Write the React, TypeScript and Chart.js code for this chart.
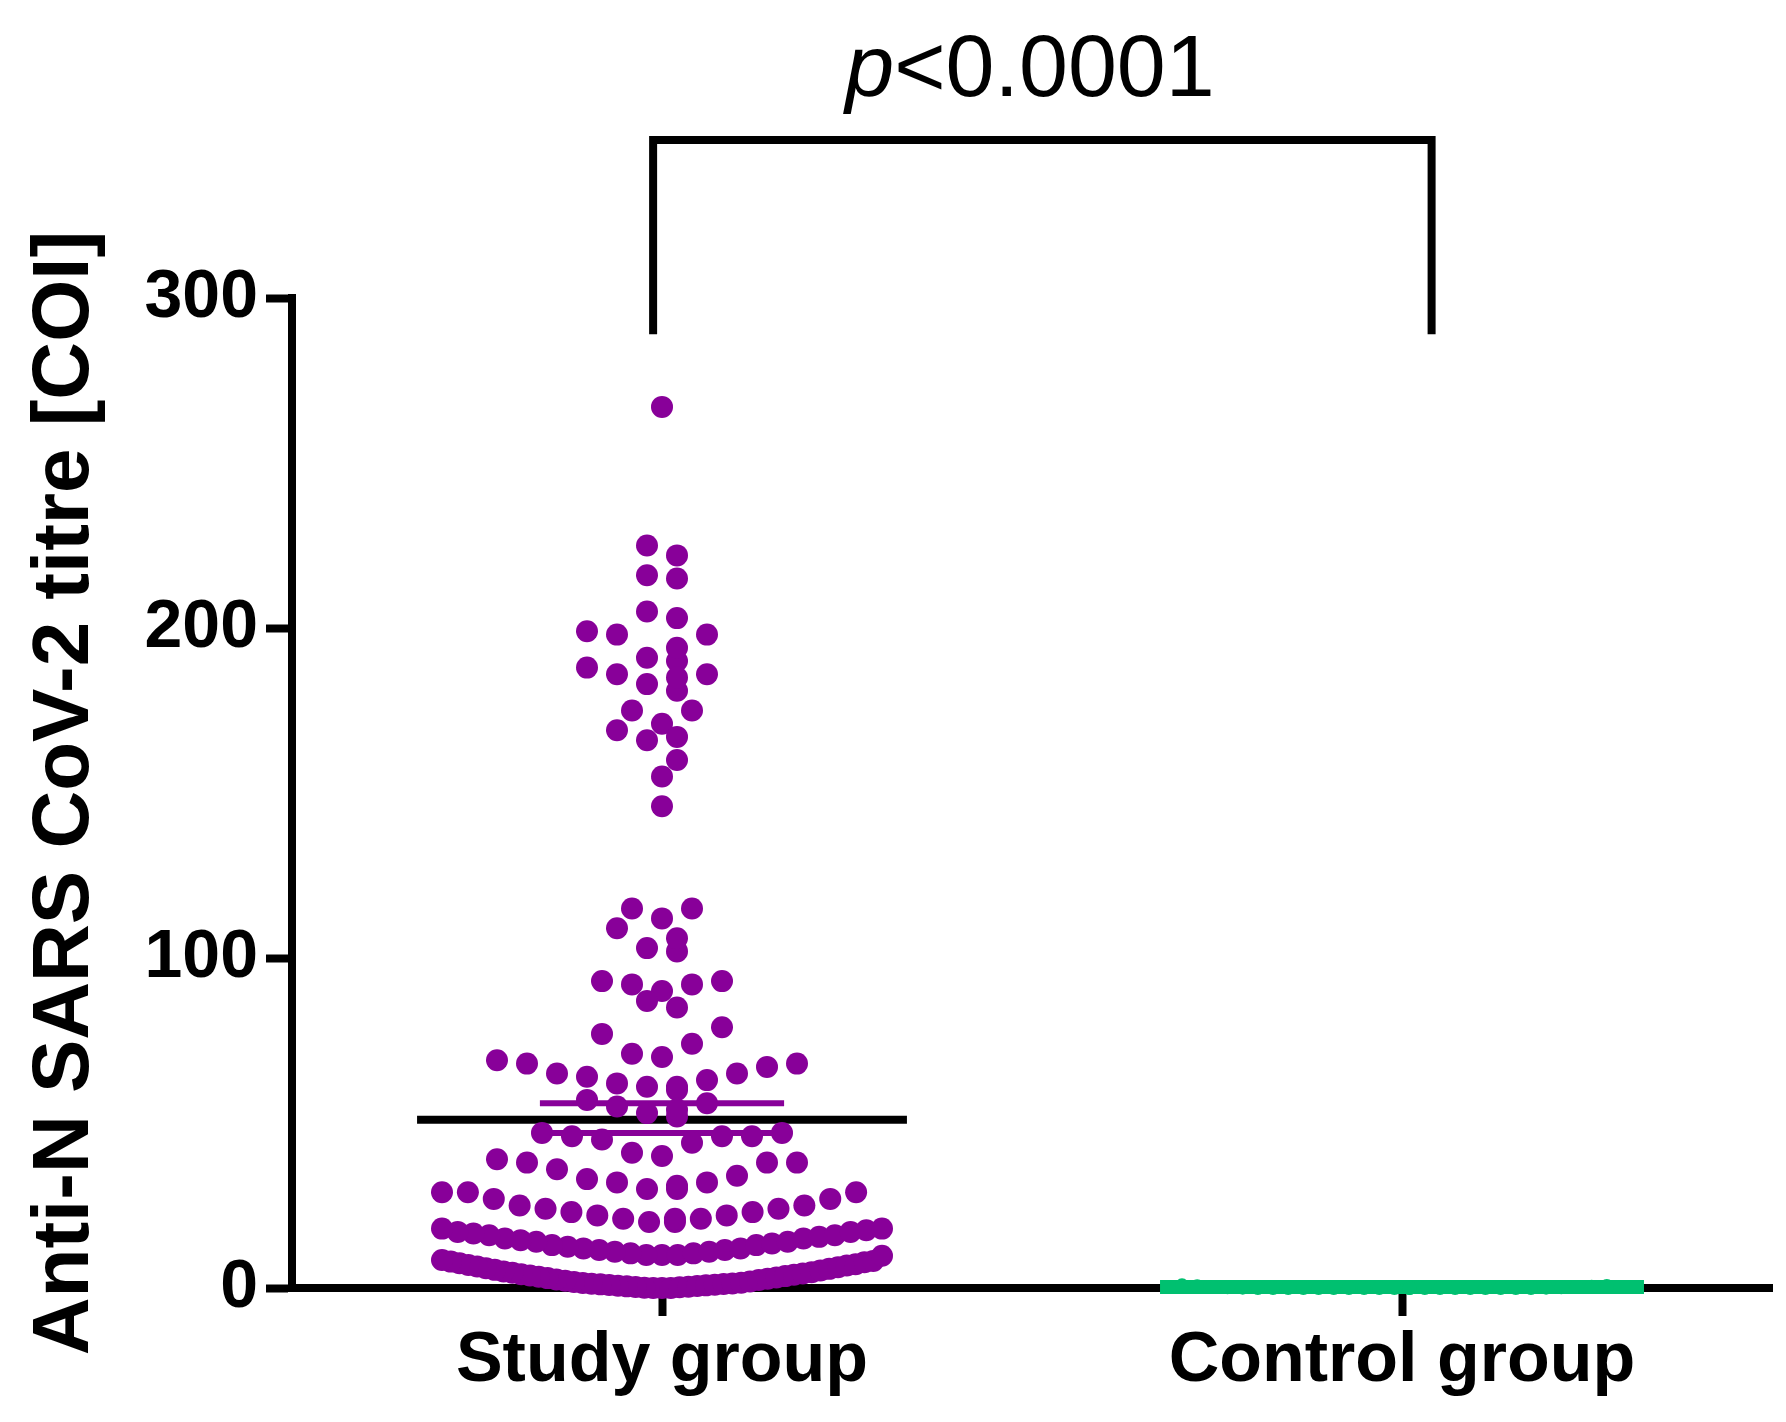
import React, { useEffect, useRef } from "react";
import { Chart, registerables } from "chart.js";
Chart.register(...registerables);

const categories = ["Study group", "Control group"];
const yTicks = [0, 100, 200, 300];
const studyValues: number[] = [
  267, 225, 222, 216, 215, 205, 203, 199, 198, 198, 194, 191, 190, 188, 186, 186, 185, 183, 181, 175, 175, 171, 169, 167, 166, 160, 155, 146,
  115, 115, 112, 109, 106, 103, 102, 93, 93, 92, 92, 90, 87, 85, 79, 77, 74, 71, 70,
  69, 68, 68, 67, 65, 65, 64, 63, 62, 61, 61, 60, 57, 56, 55, 54, 53, 52,
  47, 47, 46, 46, 46, 45, 44, 41, 40, 39, 38, 38, 38, 36, 34, 33, 32, 32, 31, 30, 30, 29, 29, 29,
  27, 27, 25, 25, 24, 24, 23, 23, 22, 22, 21, 21, 21, 20, 20,
  18, 18, 17.5, 17, 17, 16.5, 16, 16, 15.5, 15, 15, 14.5, 14, 14, 13.5, 13, 13, 12.5, 12, 12, 11.5, 11.5, 11, 11, 10.5, 10.5, 10, 10, 10, 9.8,
  8.5, 8.2, 8, 7.8, 7.5, 7.2, 7, 6.8, 6.5, 6.3, 6, 5.8, 5.5, 5.3, 5, 4.8, 4.6, 4.4, 4.2, 4, 3.8, 3.6, 3.4, 3.2, 3, 2.8, 2.6, 2.4, 2.2, 2, 1.8, 1.6, 1.5, 1.4, 1.3, 1.2, 1.1, 1, 0.9, 0.8, 0.7, 0.6, 0.5, 0.4, 0.3, 0.2, 0.1, 0, 0, 0,
];
const controlValues: number[] = [0.8, 0.6, 0.5, 0.4, 0.3, 0.3, 0.2, 0.2, 0.1, 0.1, 0, 0, 0, 0, 0, 0, 0, 0, 0, 0, 0, 0, 0, 0, 0, 0, 0, 0, 0, 0];
const studyMean = 51;
const studySemLow = 47;
const studySemHigh = 56;
const controlMean = 0.3;
const pLabel = "<0.0001";

const PURPLE = "#880099";
const GREEN = "#00c070";

function swarm(values: number[], center: number, chart: any, binPx: number, stepPx: number, maxWidthPx: number) {
  const xs = chart.scales.x, ys = chart.scales.y;
  const cpx = xs.getPixelForValue(center);
  const bins = new Map<number, number[]>();
  values.forEach((v) => {
    const b = Math.floor((ys.getPixelForValue(0) - ys.getPixelForValue(v)) / binPx);
    if (!bins.has(b)) bins.set(b, []);
    bins.get(b)!.push(v);
  });
  const out: { x: number; y: number }[] = [];
  bins.forEach((arr) => {
    arr.sort((a, b) => a - b);
    const n = arr.length;
    const step = n > 1 ? Math.min(stepPx, maxWidthPx / (n - 1)) : 0;
    arr.forEach((v, i) => {
      const k = Math.ceil(i / 2) * (i % 2 === 1 ? -1 : 1);
      const shift = n % 2 === 0 ? step / 2 : 0;
      const px = cpx + k * step + (n % 2 === 0 ? (k <= 0 ? shift : -shift) : 0);
      out.push({ x: xs.getValueForPixel(px), y: v });
    });
  });
  return out;
}

export default function App() {
  const ref = useRef<HTMLCanvasElement>(null);
  useEffect(() => {
    document.body.style.margin = "0";
    const narrow = "'Liberation Sans Narrow', 'Liberation Sans', Arial, sans-serif";
    const bracket = {
      id: "bracket",
      afterDraw(c: any) {
        const ctx = c.ctx, xs = c.scales.x, ys = c.scales.y;
        const x1 = xs.getPixelForValue(0.488), x2 = xs.getPixelForValue(1.54);
        const yTop = 140, yBot = ys.getPixelForValue(289);
        ctx.save();
        ctx.strokeStyle = "#000"; ctx.lineWidth = 8; ctx.lineJoin = "miter";
        ctx.beginPath(); ctx.moveTo(x1, yBot); ctx.lineTo(x1, yTop); ctx.lineTo(x2, yTop); ctx.lineTo(x2, yBot); ctx.stroke();
        ctx.fillStyle = "#000"; ctx.textBaseline = "alphabetic";
        ctx.font = "italic 88px 'Liberation Sans', Arial";
        const w1 = ctx.measureText("p").width;
        ctx.font = "88px 'Liberation Sans', Arial";
        const w2 = ctx.measureText(pLabel).width;
        const sx = 1030 - (w1 + w2) / 2;
        ctx.font = "italic 88px 'Liberation Sans', Arial";
        ctx.fillText("p", sx, 96);
        ctx.font = "88px 'Liberation Sans', Arial";
        ctx.fillText(pLabel, sx + w1, 96);
        ctx.restore();
      },
    };
    const lineDs = (x: number, h: number, y: number, color: string, w: number) => ({
      type: "line" as const, data: [{ x: x - h, y }, { x: x + h, y }], borderColor: color, borderWidth: w,
      pointRadius: 0, fill: false, clip: false as any,
    });
    const chart = new Chart(ref.current!, {
      type: "scatter",
      data: {
        datasets: [
          { data: studyValues.map((v) => ({ x: 0.5, y: v })), backgroundColor: PURPLE, borderWidth: 0, pointRadius: 11, clip: false as any },
          { data: controlValues.map((v) => ({ x: 1.5, y: v })), backgroundColor: GREEN, borderWidth: 0, pointRadius: 7, clip: false as any },
          lineDs(0.5, 0.165, studySemHigh, PURPLE, 6),
          lineDs(0.5, 0.165, studySemLow, PURPLE, 6),
          lineDs(0.5, 0.331, studyMean, "#000", 8),
          lineDs(1.5, 0.327, controlMean, GREEN, 14),
        ] as any,
      },
      options: {
        animation: false, responsive: false,
        layout: { padding: { top: 298, right: 14, left: 18, bottom: 0 } },
        plugins: { legend: { display: false }, tooltip: { enabled: false } },
        scales: {
          x: {
            type: "linear", min: 0, max: 2,
            afterBuildTicks: (s: any) => { s.ticks = [{ value: 0.5 }, { value: 1.5 }]; },
            afterFit: (s: any) => { s.height = 134; },
            grid: { display: true, drawOnChartArea: false, drawTicks: true, tickLength: 28, tickWidth: 8, color: "#000" },
            border: { display: true, color: "#000", width: 8 },
            ticks: { color: "#000", padding: 4, font: { family: narrow, size: 70, weight: "bold" }, callback: (v: any) => categories[Math.round(Number(v) - 0.5)] },
          },
          y: {
            min: 0, max: 300,
            afterBuildTicks: (s: any) => { s.ticks = yTicks.map((v) => ({ value: v })); },
            afterFit: (s: any) => { s.width = 274; },
            grid: { display: true, drawOnChartArea: false, drawTicks: true, tickLength: 26, tickWidth: 8, color: "#000" },
            border: { display: true, color: "#000", width: 8 },
            ticks: { color: "#000", padding: 8, font: { family: narrow, size: 68, weight: "bold" } },
            title: { display: true, text: "Anti-N SARS CoV-2 titre [COI]", color: "#000", padding: 0, font: { family: "'Liberation Sans', Arial", size: 80, weight: "bold" } },
          },
        },
      } as any,
      plugins: [bracket],
    });
    chart.data.datasets[0].data = swarm(studyValues, 0.5, chart, 33, 30, 440) as any;
    chart.data.datasets[1].data = swarm(controlValues, 1.5, chart, 33, 16, 440) as any;
    chart.update("none");
    return () => chart.destroy();
  }, []);
  return <canvas ref={ref} width={1786} height={1422} style={{ display: "block", width: 1786, height: 1422 }} />;
}
